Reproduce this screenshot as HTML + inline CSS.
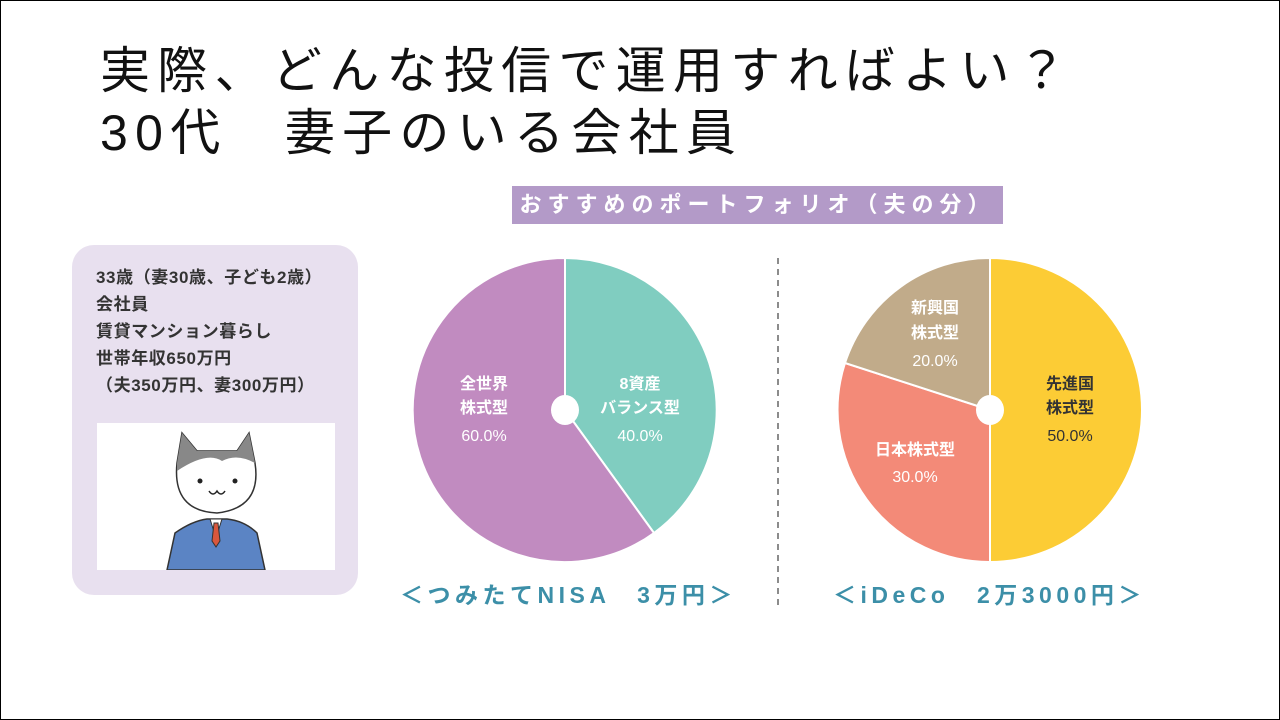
<!DOCTYPE html>
<html><head><meta charset="utf-8"><style>
body{margin:0;width:1280px;height:720px;overflow:hidden;background:#fff;font-family:"Liberation Sans","Noto Sans CJK JP",sans-serif;}
.frame{position:absolute;left:0;top:0;width:1278px;height:718px;border:1px solid #000;}
.t{position:absolute;left:100px;font-size:50px;letter-spacing:7.3px;color:#111;line-height:1;white-space:nowrap;}
.hdr{position:absolute;left:512px;top:186px;width:491px;height:38px;background:#b39ac8;color:#fff;font-size:22px;font-weight:bold;line-height:38px;text-align:center;letter-spacing:6px;}
.box{position:absolute;left:72px;top:245px;width:286px;height:350px;background:#e8e0ef;border-radius:22px;}
.info{position:absolute;left:96px;top:264px;font-size:17px;letter-spacing:0.6px;font-weight:bold;color:#333;line-height:27px;white-space:nowrap;}
.img{position:absolute;left:97px;top:423px;width:238px;height:147px;background:#fff;overflow:hidden;}
.cap{position:absolute;top:576px;font-size:23px;font-weight:bold;color:#3c8fa8;letter-spacing:4.5px;white-space:nowrap;}
</style></head><body>
<div class="frame"></div>
<div class="t" style="top:46px">実際、どんな投信で運用すればよい？</div>
<div class="t" style="top:108px">30代　妻子のいる会社員</div>
<div class="hdr">おすすめのポートフォリオ（夫の分）</div>
<div class="box"></div>
<div class="info">33歳（妻30歳、子ども2歳）<br>会社員<br>賃貸マンション暮らし<br>世帯年収650万円<br>（夫350万円、妻300万円）</div>
<div class="img"><svg width="238" height="147">
<path d="M70 147 L78 110 Q95 98 110 96 L130 96 Q148 98 160 110 L168 147Z" fill="#5b84c4" stroke="#333" stroke-width="1.5"/>
<path d="M113 96 L119 115 L125 96Z" fill="#fff" stroke="#333"/><path d="M117 100 L121 100 L123 118 L119 124 L115 118Z" fill="#d9573c" stroke="#333"/>
<path d="M80 40 L85 10 L100 28 L140 28 L152 10 L158 40 Q165 85 120 90 Q75 88 80 40Z" fill="#fff" stroke="#333" stroke-width="1.5"/>
<path d="M80 40 L85 10 L100 28 L140 28 L152 10 L158 40 Q140 30 125 38 Q110 28 80 48Z" fill="#888"/>
<circle cx="103" cy="58" r="2.5" fill="#222"/><circle cx="138" cy="58" r="2.5" fill="#222"/>
<path d="M112 68 Q116 74 120 68 Q124 74 128 68" fill="none" stroke="#222" stroke-width="1.5"/>
</svg></div>
<svg style="position:absolute;left:0;top:0" width="1280" height="720">
<g stroke="#fff" stroke-width="2">
<path d="M565 410 L565 258 A152 152 0 0 1 654 533 Z" fill="#80cdc0"/>
<path d="M565 410 L654 533 A152 152 0 1 1 565 258 Z" fill="#c18bc0"/>
<path d="M990 410 L990 258 A152 152 0 0 1 990 562 Z" fill="#fccc35"/>
<path d="M990 410 L990 562 A152 152 0 0 1 845 363 Z" fill="#f38a78"/>
<path d="M990 410 L845 363 A152 152 0 0 1 990 258 Z" fill="#c1ab8a"/>
</g>
<ellipse cx="565" cy="410" rx="14" ry="15" fill="#fff"/><ellipse cx="990" cy="410" rx="14" ry="15" fill="#fff"/>
<line x1="778" y1="258" x2="778" y2="605" stroke="#666" stroke-width="1.5" stroke-dasharray="6,5"/>
<g font-family="Liberation Sans,Noto Sans CJK JP,sans-serif" font-size="16" font-weight="bold" text-anchor="middle" fill="#fff">
<text x="484" y="389">全世界</text><text x="484" y="413">株式型</text><text x="484" y="441" font-weight="normal">60.0%</text>
<text x="640" y="389">8資産</text><text x="640" y="413">バランス型</text><text x="640" y="441" font-weight="normal">40.0%</text>
<text x="935" y="313">新興国</text><text x="935" y="338">株式型</text><text x="935" y="366" font-weight="normal">20.0%</text>
<text x="915" y="455">日本株式型</text><text x="915" y="482" font-weight="normal">30.0%</text>
<g fill="#333"><text x="1070" y="389">先進国</text><text x="1070" y="413">株式型</text><text x="1070" y="441" font-weight="normal">50.0%</text></g>
</g></svg>
<div class="cap" style="left:400px">＜つみたてNISA　3万円＞</div>
<div class="cap" style="left:833px">＜iDeCo　2万3000円＞</div>
</body></html>
